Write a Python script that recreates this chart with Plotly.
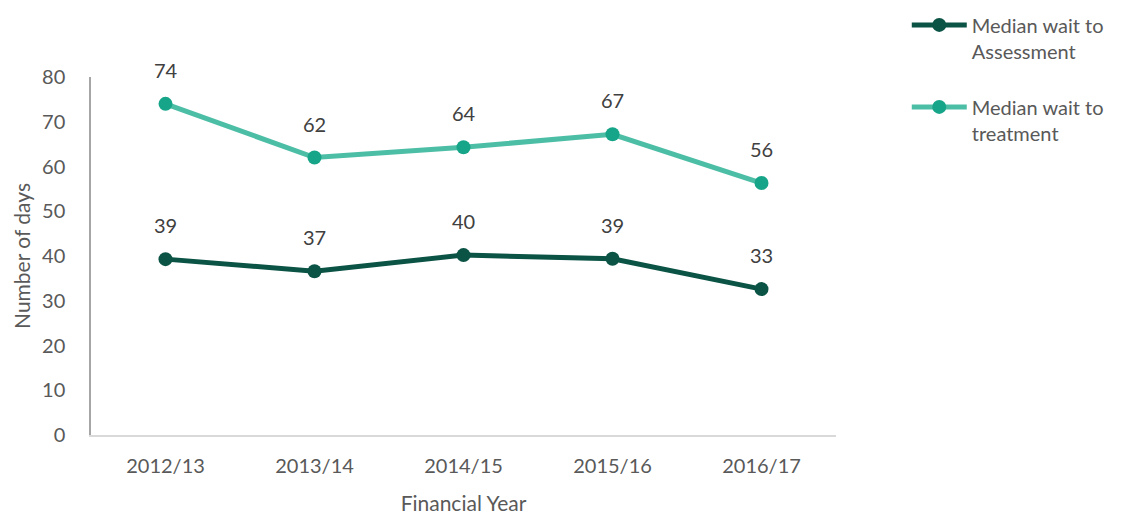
import plotly.graph_objects as go

years = ["2012/13", "2013/14", "2014/15", "2015/16", "2016/17"]
assessment = [39.3, 36.6, 40.2, 39.4, 32.6]
treatment = [74.0, 62.0, 64.3, 67.2, 56.3]
assessment_labels = ["39", "37", "40", "39", "33"]
treatment_labels = ["74", "62", "64", "67", "56"]

FONT = "Lato, 'Open Sans', sans-serif"
GREY = "#595959"

fig = go.Figure()
series = [
    ("Median wait to<br>Assessment", assessment, assessment_labels, "#0b5345", "#0b5345", "a"),
    ("Median wait to<br>treatment", treatment, treatment_labels, "#4dbea6", "#17a589", "t"),
]
for name, vals, labels, lc, mc, grp in series:
    fig.add_trace(go.Scatter(
        x=years, y=vals, name=name, mode="lines+markers", legendgroup=grp,
        line=dict(color=lc, width=5), marker=dict(color=mc, size=14),
        hoverinfo="x+y", cliponaxis=False,
    ))
    fig.add_trace(go.Scatter(
        x=years, y=vals, mode="markers+text", text=labels, legendgroup=grp,
        textposition="top center", showlegend=False, hoverinfo="skip",
        textfont=dict(size=20, color="#404040", family=FONT),
        marker=dict(size=32, opacity=0), cliponaxis=False,
    ))

fig.update_layout(
    width=1124, height=515,
    margin=dict(l=91, r=288, t=77, b=80, autoexpand=False),
    paper_bgcolor="white", plot_bgcolor="white",
    font=dict(family=FONT, color=GREY, size=20),
    legend=dict(x=1.095, y=1.2, xanchor="left", yanchor="top", valign="top",
                font=dict(size=20, color=GREY, family=FONT),
                tracegroupgap=27, itemwidth=55),
    xaxis=dict(
        range=[-0.5, 4.5], showgrid=False, showline=True, linecolor="#d9d9d9",
        linewidth=1.5, ticks="", tickfont=dict(size=20, color=GREY),
        ticklabelstandoff=12,
        title=dict(text="Financial Year", font=dict(size=21, color=GREY), standoff=22),
        zeroline=False,
    ),
    yaxis=dict(
        range=[0, 80], dtick=10, showgrid=False, showline=True, linecolor="#a6a6a6",
        linewidth=1.5, ticks="", tickfont=dict(size=20, color=GREY),
        ticklabelstandoff=20,
        title=dict(text="Number of days", font=dict(size=21, color=GREY), standoff=6),
        zeroline=False,
    ),
)
fig.write_html("out.html", config={"displayModeBar": False},
               post_script="document.body.style.margin='0';")
